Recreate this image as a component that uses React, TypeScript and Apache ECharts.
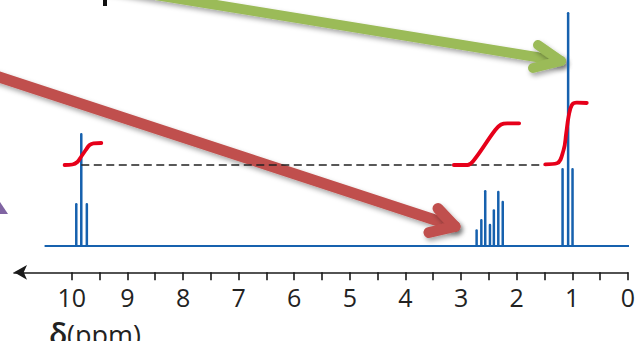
import React, { useEffect, useRef } from "react";
import * as echarts from "echarts";

// chemical shift axis (ppm)
const ppmTicks = [0, 0.5, 1, 1.5, 2, 2.5, 3, 3.5, 4, 4.5, 5, 5.5, 6, 6.5, 7, 7.5, 8, 8.5, 9, 9.5, 10];
const ppmLabels = [0, 1, 2, 3, 4, 5, 6, 7, 8, 9, 10];

// spectrum peaks (position in ppm, relative intensity)
const peakPpm = [9.92, 9.83, 9.73, 2.72, 2.635, 2.565, 2.48, 2.41, 2.33, 2.25, 1.174, 1.074, 0.995];
const peakHeight = [43, 113, 43, 16.7, 27, 56, 22.3, 36.7, 55.3, 45.3, 78, 234, 78];

// spectrum baseline span
const baselinePpm = [10.49, -0.03];

// integration reference level
const integralLevel = 81;
const referencePpm = [9.83, 1.5];

// integration curves [ppm, level]
const integralCHO = [
  [10.13, 81], [9.99, 81.5], [9.9, 84], [9.83, 89.5], [9.75, 96], [9.68, 101], [9.61, 102.7], [9.47, 103],
];
const integralCH2 = [
  [3.13, 81], [2.885, 81], [2.78, 85], [2.385, 116], [2.28, 121.5], [2.17, 122.7], [1.955, 122.7],
];
const integralCH3 = [
  [1.485, 81.7], [1.275, 82.7], [1.156, 96], [1.109, 112.7], [1.066, 129.3], [1.007, 141], [0.918, 143.3], [0.739, 143],
];

const BLUE = "#1661AE";
const RED = "#E6001A";

export default function App() {
  const ref = useRef<HTMLDivElement>(null);

  useEffect(() => {
    if (!ref.current) return;
    const chart = echarts.init(ref.current, undefined, { renderer: "svg" });

    const integralSeries = [integralCHO, integralCH2, integralCH3].map((d) => ({
      type: "line",
      data: d,
      smooth: 0.4,
      symbol: "none",
      z: 6,
      lineStyle: { color: RED, width: 3.8, cap: "round", join: "round" },
    }));

    const shadow = {
      shadowBlur: 5,
      shadowColor: "rgba(0,0,0,0.35)",
      shadowOffsetX: 2,
      shadowOffsetY: 3,
    };

    chart.setOption({
      animation: false,
      grid: { left: 14, right: 6.7, top: 0, bottom: 68.7 },
      xAxis: {
        type: "value",
        min: 0,
        max: 11.04,
        inverse: true,
        splitLine: { show: false },
        axisLine: {
          show: true,
          onZero: false,
          symbol: ["arrow", "none"],
          symbolSize: [11, 13],
          symbolOffset: [0, 0],
          lineStyle: { color: "#1a1a1a", width: 1.6 },
        },
        axisTick: {
          show: true,
          length: 8,
          customValues: ppmTicks,
          lineStyle: { color: "#1a1a1a", width: 1.6 },
        },
        axisLabel: {
          show: true,
          customValues: ppmLabels,
          margin: 12,
          fontSize: 25,
          fontFamily: "Open Sans",
          color: "#222",
        },
      },
      yAxis: {
        type: "value",
        min: -26.3,
        max: 246,
        show: false,
        splitLine: { show: false },
      },
      series: [
        {
          type: "line",
          data: baselinePpm.map((p) => [p, 0]),
          symbol: "none",
          clip: false,
          z: 2,
          lineStyle: { color: BLUE, width: 2 },
        },
        {
          type: "bar",
          data: peakPpm.map((p, i) => [p, peakHeight[i]]),
          barWidth: 2.5,
          z: 3,
          itemStyle: { color: BLUE, borderRadius: [1.2, 1.2, 0, 0] },
        },
        {
          type: "line",
          data: referencePpm.map((p) => [p, integralLevel]),
          symbol: "none",
          z: 4,
          lineStyle: { color: "#222", width: 1.3, type: [8, 4.5] },
        },
        ...integralSeries,
      ],
      graphic: [
        {
          type: "rect",
          z: 100,
          shape: { x: 103, y: 0, width: 4, height: 6 },
          style: { fill: "#111" },
        },
        {
          type: "polygon",
          z: 100,
          shape: { points: [[0, 202], [8, 214], [0, 214]] },
          style: { fill: "#8064A2" },
        },
        {
          type: "group",
          z: 100,
          children: [
            {
              type: "line",
              shape: { x1: 100, y1: -14, x2: 561, y2: 61 },
              style: { stroke: "#9BBB59", lineWidth: 10, lineCap: "round", ...shadow },
            },
            {
              type: "polyline",
              shape: { points: [[538, 45], [561, 61], [533, 68]] },
              style: { stroke: "#9BBB59", fill: null, lineWidth: 10, lineCap: "round", lineJoin: "round", ...shadow },
            },
          ],
        },
        {
          type: "group",
          z: 100,
          children: [
            {
              type: "line",
              shape: { x1: -10, y1: 74, x2: 455, y2: 226.5 },
              style: { stroke: "#C0504D", lineWidth: 11, lineCap: "round", ...shadow },
            },
            {
              type: "polyline",
              shape: { points: [[438, 208.5], [455, 226.5], [429, 232.5]] },
              style: { stroke: "#C0504D", fill: null, lineWidth: 11, lineCap: "round", lineJoin: "round", ...shadow },
            },
          ],
        },
        {
          type: "text",
          z: 100,
          x: 49,
          y: 333,
          style: {
            text: "δ",
            fontSize: 30,
            fontWeight: 600,
            fontFamily: "Open Sans",
            fill: "#222",
            verticalAlign: "middle",
          },
        },
        {
          type: "text",
          z: 100,
          x: 67,
          y: 334,
          style: {
            text: "(ppm)",
            fontSize: 27,
            fontFamily: "Open Sans",
            fill: "#222",
            verticalAlign: "middle",
          },
        },
      ],
    });

    return () => chart.dispose();
  }, []);

  return <div ref={ref} style={{ width: 638, height: 341, position: "absolute", left: 0, top: 0 }} />;
}
